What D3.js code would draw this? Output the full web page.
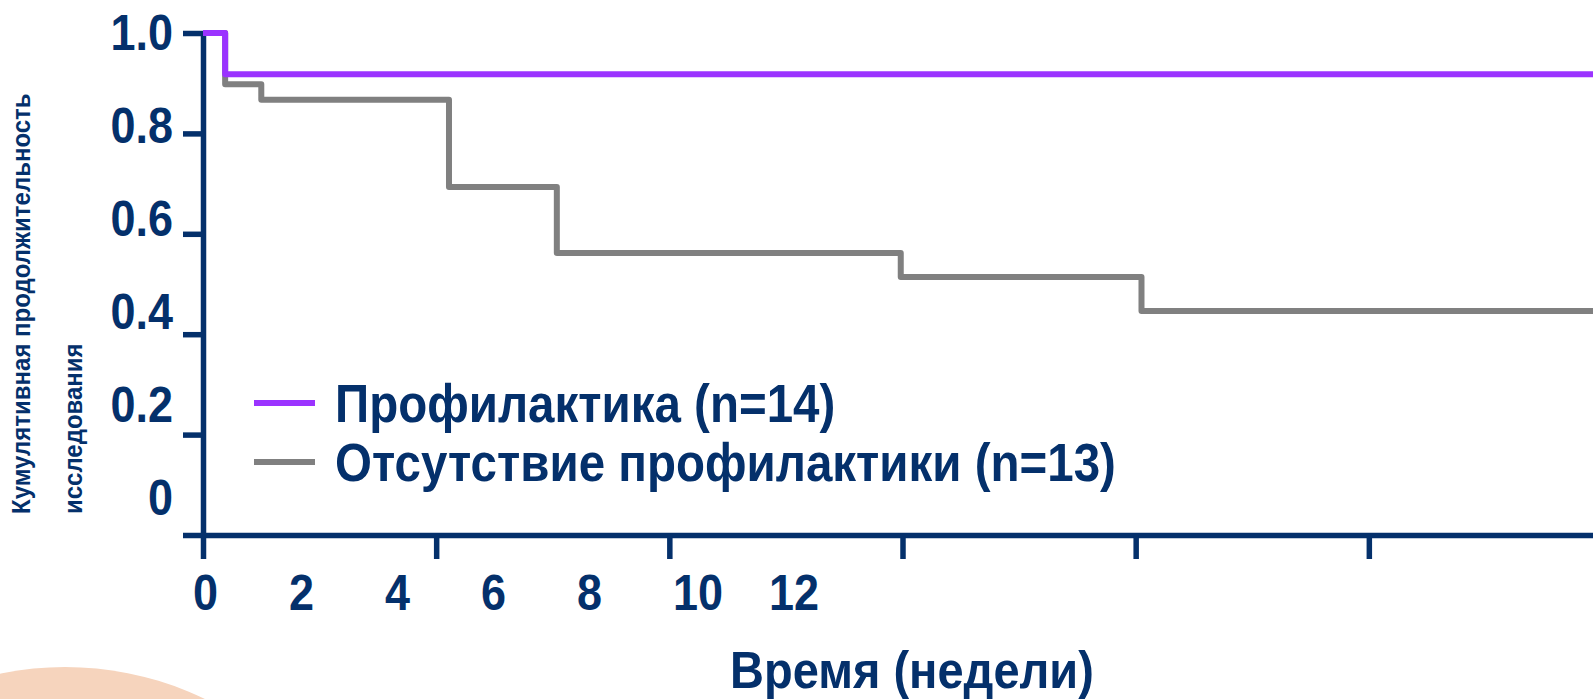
<!DOCTYPE html>
<html>
<head>
<meta charset="utf-8">
<script src="https://cdn.jsdelivr.net/npm/d3@7"></script>
<style>
  html, body { margin: 0; padding: 0; background: #ffffff; overflow: hidden; }
  svg { display: block; }
  text { font-family: "Liberation Sans", Arial, sans-serif; font-weight: bold; }
</style>
</head>
<body>
<svg id="chart" width="1593" height="699"></svg>
<script>
// ---- data (time in weeks, survival fraction) ----
const groupNames = ["Профилактика (n=14)", "Отсутствие профилактики (n=13)"];
const prophylaxisTimes  = [0, 0.38, 24];
const prophylaxisValues = [1.0, 0.918, 0.918];
const noProphylaxisTimes  = [0, 0.38, 1.0, 4.22, 6.07, 11.97, 16.1, 24];
const noProphylaxisValues = [1.0, 0.898, 0.867, 0.693, 0.562, 0.514, 0.446, 0.446];
const yTickValues = [0, 0.2, 0.4, 0.6, 0.8, 1.0];
const yTickLabels = ["0", "0.2", "0.4", "0.6", "0.8", "1.0"];
const xTickValues = [0, 4, 8, 12, 16, 20, 24];
const xTickLabels = ["0", "2", "4", "6", "8", "10", "12"];
const yTitleLines = ["Кумулятивная продолжительность", "исследования"];
const xTitle = "Время (недели)";

const navy = "#04306b";
const colors = ["#9b33ff", "#808080"];
const stretch = 1.12; // text in the original is slightly taller than wide

const svg = d3.select("#chart");

// decorative background blob (bottom-left)
svg.append("circle").attr("cx", 65).attr("cy", 989).attr("r", 322).attr("fill", "#f6d4bd");

const x = d3.scaleLinear().domain([0, 24]).range([203, 1602]);
const y = d3.scaleLinear().domain([0, 1]).range([535, 33]);

// label placement scales (labels in the original are offset from the tick marks)
const xLabelPos = d3.scalePoint().domain(xTickLabels).range([193, 769]);
const yLabelPos = d3.scalePoint().domain(yTickLabels).range([497, 32]);

// axes
const gx = svg.append("g").attr("transform", `translate(0,${y(0)})`)
  .call(d3.axisBottom(x).tickValues(xTickValues).tickSize(24).tickSizeOuter(0).tickFormat(""));
const gy = svg.append("g").attr("transform", `translate(${x(0)},0)`)
  .call(d3.axisLeft(y).tickValues(yTickValues).tickSize(20).tickSizeOuter(0).tickFormat(""));
[gx, gy].forEach(g => {
  g.select(".domain").attr("stroke", navy).attr("stroke-width", 5.5);
  g.selectAll(".tick line").attr("stroke", navy).attr("stroke-width", 5.5);
});

// tick labels
const tickFs = 45;
svg.append("g").selectAll("text").data(yTickLabels).join("text")
  .attr("transform", d => `translate(173,${yLabelPos(d) + 0.358 * tickFs * stretch}) scale(1,${stretch})`)
  .attr("text-anchor", "end").attr("font-size", tickFs).attr("fill", navy)
  .text(d => d);
svg.append("g").selectAll("text").data(xTickLabels).join("text")
  .attr("transform", d => `translate(${xLabelPos(d)},610) scale(1,${stretch})`)
  .attr("text-anchor", "start").attr("font-size", tickFs).attr("fill", navy)
  .text(d => d);

// step lines
const line = d3.line().x(d => x(d[0])).y(d => y(d[1])).curve(d3.curveStepAfter);
const series = [
  d3.zip(noProphylaxisTimes, noProphylaxisValues),
  d3.zip(prophylaxisTimes, prophylaxisValues)
];
const seriesColors = [colors[1], colors[0]];
svg.append("g").selectAll("path").data(series).join("path")
  .attr("d", line).attr("fill", "none")
  .attr("stroke", (d, i) => seriesColors[i]).attr("stroke-width", 6)
  .attr("stroke-linejoin", "round");

// legend
const legFs = 47.5;
const leg = svg.append("g").selectAll("g").data(groupNames).join("g")
  .attr("transform", (d, i) => `translate(0,${403 + i * 59})`);
leg.append("line").attr("x1", 254).attr("x2", 315).attr("y1", 0).attr("y2", 0)
  .attr("stroke", (d, i) => colors[i]).attr("stroke-width", 6);
leg.append("text")
  .attr("transform", `translate(335,${0.358 * legFs * stretch}) scale(1,${stretch})`)
  .attr("font-size", legFs).attr("fill", navy).text(d => d);

// axis titles
svg.append("text")
  .attr("transform", `translate(912,688) scale(1,${stretch})`)
  .attr("text-anchor", "middle")
  .attr("font-size", 47).attr("fill", navy).text(xTitle);
svg.append("g").selectAll("text").data(yTitleLines).join("text")
  .attr("transform", (d, i) => `translate(${30 + i * 52},514) rotate(-90) scale(1,1.05)`)
  .attr("text-anchor", "start").attr("font-size", 24).attr("fill", navy)
  .text(d => d);
</script>
</body>
</html>
